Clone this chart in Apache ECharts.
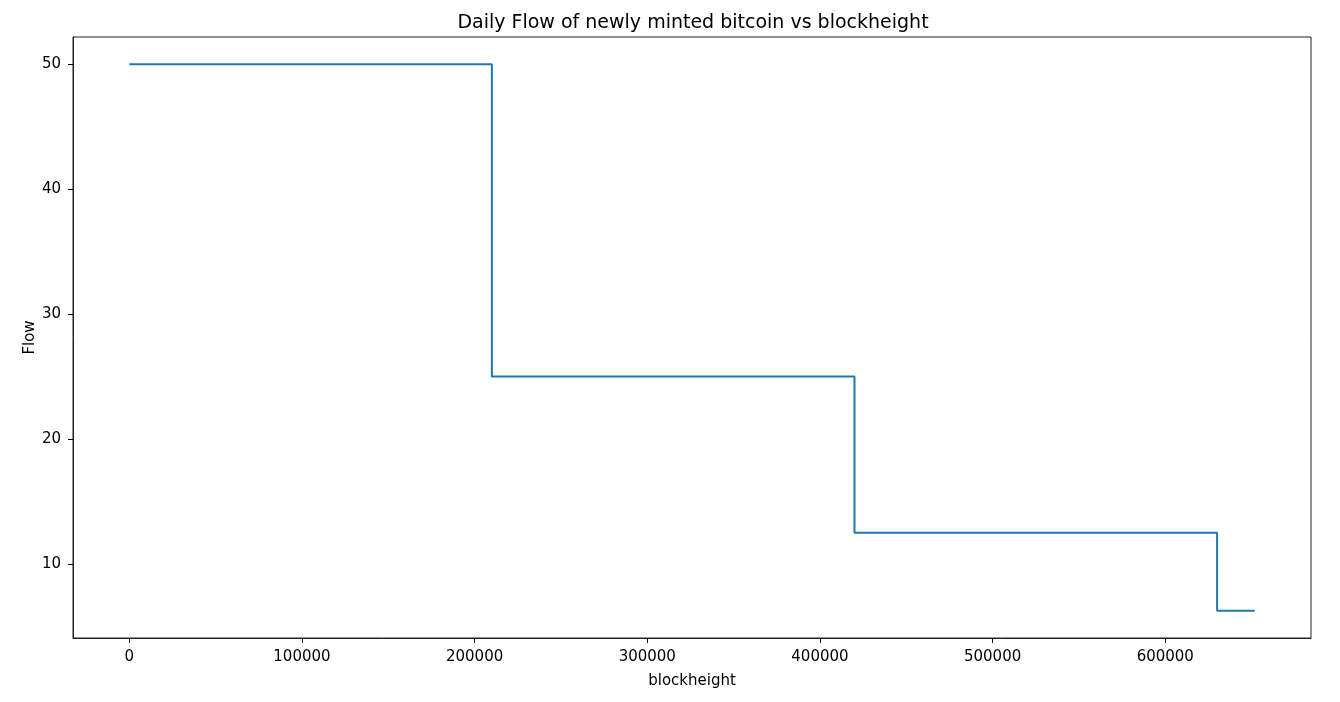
<!DOCTYPE html>
<html>
<head>
<meta charset="utf-8">
<script src="https://cdn.jsdelivr.net/npm/echarts@6/dist/echarts.min.js"></script>
<style>html,body{margin:0;padding:0;background:#fff}#c{width:1340px;height:702px}</style>
</head>
<body>
<div id="c"></div>
<script>
// Block heights where the reward changes, and the reward from that height on
const blockheight = [0, 210000, 420000, 630000, 651800];
const flow = [50, 25, 12.5, 6.25, 6.25];
const xTicks = [0, 100000, 200000, 300000, 400000, 500000, 600000];
const yTicks = [10, 20, 30, 40, 50];

const xMinD = Math.min(...blockheight), xMaxD = Math.max(...blockheight);
const yMinD = Math.min(...flow), yMaxD = Math.max(...flow);
const xPad = (xMaxD - xMinD) * 0.05, yPad = (yMaxD - yMinD) * 0.05;

const font = 'DejaVu Sans';
const chart = echarts.init(document.getElementById('c'), null, {renderer: 'canvas'});
chart.setOption({
  animation: false,
  backgroundColor: '#fff',
  title: {
    text: 'Daily Flow of newly minted bitcoin vs blockheight',
    left: 688, top: 9, textAlign: 'center',
    textStyle: {fontFamily: font, fontSize: 19, fontWeight: 'normal', color: '#000'}
  },
  grid: {left: 73, right: 29, top: 37, bottom: 64, show: true, borderColor: '#222', borderWidth: 1, backgroundColor: 'transparent'},
  xAxis: {
    type: 'value', min: xMinD - xPad, max: xMaxD + xPad,
    name: 'blockheight', nameLocation: 'middle', nameGap: 36,
    nameTextStyle: {fontFamily: font, fontSize: 15, color: '#000'},
    axisLine: {show: true, onZero: false, lineStyle: {color: '#222', width: 1}},
    axisTick: {show: true, inside: false, length: 5, lineStyle: {color: '#000'}, customValues: xTicks},
    axisLabel: {fontFamily: font, fontSize: 15, color: '#000', margin: 12, customValues: xTicks,
      formatter: v => String(v)},
    splitLine: {show: false}
  },
  yAxis: {
    type: 'value', min: yMinD - yPad, max: yMaxD + yPad,
    name: 'Flow', nameLocation: 'middle', nameGap: 35, nameRotate: 90, nameMoveOverlap: false,
    nameTextStyle: {fontFamily: font, fontSize: 15, color: '#000'},
    axisLine: {show: true, onZero: false, lineStyle: {color: '#222', width: 1}},
    axisTick: {show: true, inside: false, length: 5, lineStyle: {color: '#000'}, customValues: yTicks},
    axisLabel: {fontFamily: font, fontSize: 15, color: '#000', margin: 12, customValues: yTicks,
      formatter: v => String(v)},
    splitLine: {show: false}
  },
  series: [{
    type: 'line', step: 'end', showSymbol: false, symbol: 'none',
    data: blockheight.map((x, i) => [x, flow[i]]),
    lineStyle: {color: '#1f77b4', width: 2},
    itemStyle: {color: '#1f77b4'}
  }]
});
</script>
</body>
</html>
